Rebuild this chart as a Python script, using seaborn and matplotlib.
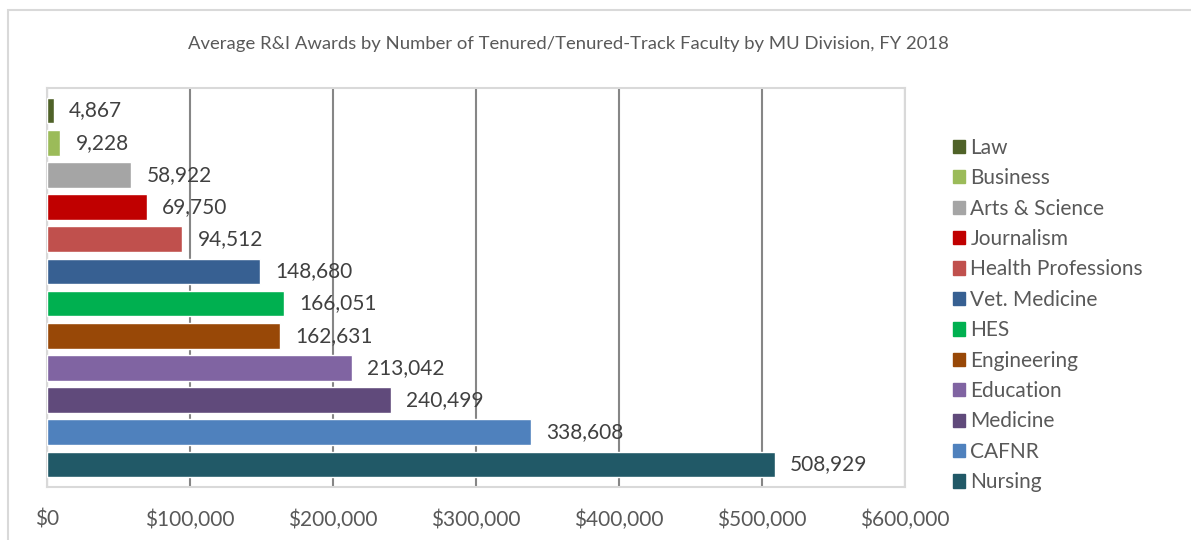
import seaborn as sns
import matplotlib.pyplot as plt
from matplotlib.patches import Rectangle
from matplotlib.ticker import FuncFormatter

# Data
divisions = ['Law', 'Business', 'Arts & Science', 'Journalism', 'Health Professions',
             'Vet. Medicine', 'HES', 'Engineering', 'Education', 'Medicine', 'CAFNR', 'Nursing']
awards = [4867, 9228, 58922, 69750, 94512, 148680, 166051, 162631, 213042, 240499, 338608, 508929]
colors = ['#4F6228', '#9BBB59', '#A5A5A5', '#C00000', '#C0504D', '#376092',
          '#00B050', '#984807', '#8064A2', '#604A7B', '#4F81BD', '#215967']
xticks = [0, 100000, 200000, 300000, 400000, 500000, 600000]

sns.set_style('white')
plt.rcParams['font.family'] = ['Lato', 'DejaVu Sans']

fig = plt.figure(figsize=(11.91, 5.40), dpi=100)
ax = fig.add_axes([47 / 1191, 1 - 487 / 540, 858 / 1191, 399 / 540])

# outer chart frame
fig.patches.append(Rectangle((8 / 1191, -0.1), 1.2, 1.1 - 10 / 540, transform=fig.transFigure,
                             fill=False, edgecolor='#D9D9D9', linewidth=1.5, zorder=0))

sns.barplot(x=awards, y=divisions, hue=divisions, palette=colors, orient='h',
            width=0.8, saturation=1, legend=False, ax=ax, zorder=3)

ax.set_xlim(0, 600000)
ax.set_ylim(11.7, -0.7)
ax.set_xticks(xticks)
ax.xaxis.set_major_formatter(FuncFormatter(lambda v, p: '${:,.0f}'.format(v)))
ax.tick_params(axis='x', length=0, pad=16, labelsize=15, labelcolor='#595959')
ax.set_yticks([])
ax.set_xlabel('')
ax.set_ylabel('')
ax.grid(axis='x', color='#868686', linewidth=1.5)
ax.set_axisbelow(True)
for s in ax.spines.values():
    s.set_color('#D9D9D9')
    s.set_linewidth(1.5)

for i, v in enumerate(awards):
    ax.annotate('{:,}'.format(v), (v, i), xytext=(11, 0), textcoords='offset points',
                ha='left', va='center', fontsize=15, color='#404040')

handles = [Rectangle((0, 0), 1, 1, color=c) for c in colors]
fig.legend(handles, divisions, loc='upper left', bbox_to_anchor=(934 / 1191, 1 - 119 / 540),
           frameon=False, fontsize=15, handlelength=0.6, handleheight=0.6,
           handletextpad=0.25, labelspacing=0.5, labelcolor='#595959')

fig.text(568 / 1191, 1 - 44 / 540, 'Average R&I Awards by Number of Tenured/Tenured-Track Faculty by MU Division, FY 2018',
         ha='center', va='center', fontsize=13.3, color='#595959')

fig.savefig('out.png', dpi=100)
